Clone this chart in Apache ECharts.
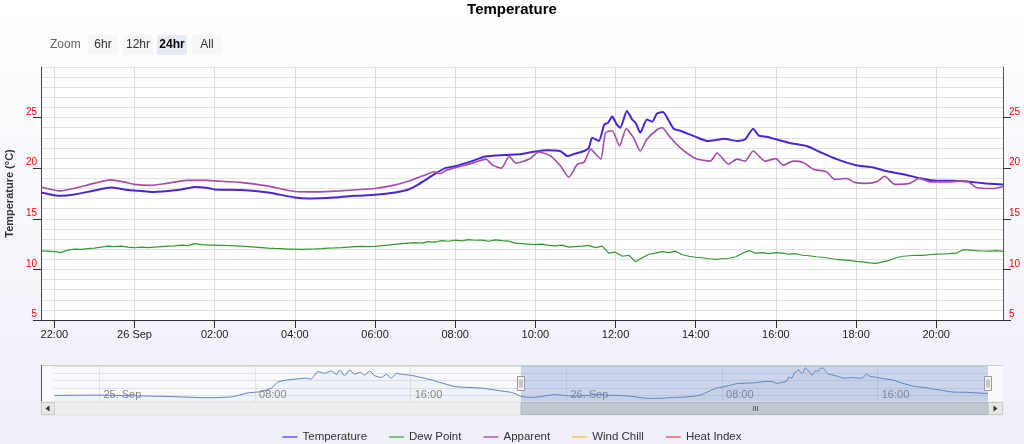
<!DOCTYPE html>
<html><head><meta charset="utf-8">
<script src="https://cdn.jsdelivr.net/npm/echarts@6/dist/echarts.min.js"></script>
<style>html,body{margin:0;padding:0;background:#fff}#c{width:1024px;height:444px}</style>
</head><body><div id="c"></div>
<script>
const FONT = '"Liberation Sans", Arial, Helvetica, sans-serif';
const MONTHS = ['Jan','Feb','Mar','Apr','May','Jun','Jul','Aug','Sep','Oct','Nov','Dec'];

// ---- data (time strings are "DD HH:MM", September) ----
const viewStart = "25 21:40", viewEnd = "26 21:40";
const navStart = "24 21:40", navEnd = "26 21:40";
const mainTicks = ["25 22:00","26 00:00","26 02:00","26 04:00","26 06:00","26 08:00","26 10:00","26 12:00","26 14:00","26 16:00","26 18:00","26 20:00"];
const navTicks = ["25 00:00","25 08:00","25 16:00","26 00:00","26 08:00","26 16:00"];
const yTicksMin = 5, yTicksMax = 30, yTickStep = 5;

const temperature = [["25 21:40",17.6],["25 22:00",17.33],["25 22:10",17.27],["25 22:30",17.4],["25 23:00",17.8],["25 23:25",18.1],["25 23:45",17.9],["26 00:00",17.8],["26 00:25",17.65],["26 00:50",17.75],["26 01:10",17.9],["26 01:30",18.15],["26 01:50",18.05],["26 02:00",17.9],["26 02:40",17.85],["26 03:20",17.6],["26 04:00",17.1],["26 04:20",17.0],["26 05:00",17.1],["26 05:30",17.27],["26 06:00",17.37],["26 06:30",17.6],["26 06:50",17.9],["26 07:05",18.4],["26 07:25",19.25],["26 07:45",20.0],["26 08:00",20.2],["26 08:25",20.7],["26 08:45",21.15],["26 09:15",21.3],["26 09:40",21.4],["26 10:00",21.65],["26 10:18",21.78],["26 10:37",21.7],["26 10:48",21.2],["26 10:58",21.4],["26 11:13",21.7],["26 11:20",22.0],["26 11:25",23.0],["26 11:35",22.7],["26 11:43",24.3],["26 11:49",24.5],["26 11:55",25.1],["26 12:02",24.3],["26 12:07",24.0],["26 12:17",25.66],["26 12:25",24.8],["26 12:30",24.5],["26 12:37",23.5],["26 12:47",24.8],["26 12:55",24.6],["26 13:02",25.4],["26 13:11",25.56],["26 13:20",24.67],["26 13:27",23.9],["26 13:37",23.7],["26 14:00",23.1],["26 14:17",22.7],["26 14:32",22.8],["26 14:42",22.9],["26 15:02",22.7],["26 15:14",22.86],["26 15:26",23.9],["26 15:34",23.25],["26 15:46",23.1],["26 16:00",22.86],["26 16:21",22.5],["26 16:46",22.2],["26 17:06",21.6],["26 17:31",20.9],["26 18:00",20.3],["26 18:26",20.07],["26 18:46",19.7],["26 19:11",19.4],["26 19:36",19.0],["26 20:00",18.75],["26 20:25",18.75],["26 20:50",18.65],["26 21:15",18.5],["26 21:40",18.4]];

const apparent = [["25 21:40",18.15],["25 22:09",17.76],["25 22:29",18.0],["25 22:59",18.5],["25 23:24",18.85],["25 23:44",18.65],["26 00:00",18.4],["26 00:23",18.3],["26 00:48",18.5],["26 01:18",18.8],["26 01:48",18.8],["26 02:00",18.75],["26 02:38",18.6],["26 03:18",18.25],["26 04:00",17.7],["26 04:33",17.66],["26 05:07",17.76],["26 05:37",17.9],["26 06:00",18.0],["26 06:27",18.3],["26 06:47",18.65],["26 07:12",19.25],["26 07:29",19.65],["26 07:37",19.45],["26 07:47",19.8],["26 08:00",20.05],["26 08:26",20.5],["26 08:46",20.9],["26 08:56",20.3],["26 09:09",20.0],["26 09:21",21.15],["26 09:31",20.5],["26 09:51",20.9],["26 10:05",21.6],["26 10:23",21.2],["26 10:38",20.2],["26 10:50",19.1],["26 11:03",20.4],["26 11:13",20.6],["26 11:23",21.9],["26 11:30",21.4],["26 11:38",20.9],["26 11:45",23.5],["26 11:55",23.7],["26 12:06",22.2],["26 12:16",23.9],["26 12:27",23.0],["26 12:37",21.7],["26 12:47",22.86],["26 13:02",23.8],["26 13:10",24.0],["26 13:20",23.2],["26 13:37",22.0],["26 14:00",20.95],["26 14:22",20.7],["26 14:32",21.5],["26 14:49",20.4],["26 15:02",20.9],["26 15:14",20.7],["26 15:26",21.7],["26 15:44",20.7],["26 16:00",20.95],["26 16:11",20.3],["26 16:26",20.7],["26 16:41",20.56],["26 16:56",19.9],["26 17:16",19.64],["26 17:28",18.9],["26 17:46",18.98],["26 17:58",18.6],["26 18:16",18.5],["26 18:31",18.65],["26 18:43",19.2],["26 18:58",18.4],["26 19:20",18.5],["26 19:35",19.0],["26 19:50",18.65],["26 20:15",18.65],["26 20:45",18.75],["26 21:00",18.1],["26 21:25",18.0],["26 21:40",18.2]];

// dew point every 10 minutes from 25 21:40 to 26 21:40
const dewStart = "25 21:40", dewStepMinutes = 10;
const dewPoint = [
 11.84,11.8,11.75,11.68,11.9,12.0,11.98,12.05,12.1,12.2,12.3,12.25,
 12.3,12.2,12.14,12.2,12.15,12.2,12.25,12.3,12.33,12.4,12.35,12.55,
 12.45,12.4,12.4,12.38,12.36,12.33,12.3,12.25,12.2,12.15,12.1,12.07,
 12.05,12.0,12.0,11.98,12.0,12.02,12.05,12.1,12.12,12.15,12.2,12.25,
 12.27,12.25,12.28,12.35,12.4,12.48,12.55,12.6,12.65,12.6,12.75,12.7,
 12.85,12.78,12.9,12.82,12.95,12.88,12.9,12.78,12.92,12.85,12.8,12.6,
 12.55,12.5,12.45,12.5,12.38,12.33,12.4,12.2,12.25,12.3,12.38,12.15,
 12.3,11.6,11.7,11.3,11.4,10.75,11.15,11.5,11.6,11.75,11.65,11.8,
 11.45,11.3,11.2,11.15,11.05,11.0,11.05,11.1,11.25,11.6,11.85,11.6,
 11.65,11.55,11.65,11.6,11.5,11.55,11.4,11.35,11.25,11.2,11.1,11.0,
 10.95,10.9,10.8,10.75,10.65,10.6,10.75,10.9,11.15,11.3,11.35,11.4,
 11.38,11.45,11.5,11.52,11.55,11.6,11.95,11.9,11.85,11.82,11.8,11.85,
 11.78];

// navigator: previous day of temperature (read from the navigator strip)
const navTempDay1 = [["24 21:40",17.84],["25 00:00",17.94],["25 01:40",17.75],["25 03:25",17.57],["25 05:35",17.2],["25 06:50",17.47],["25 07:35",18.5],["25 08:20",18.96],["25 08:50",19.9],["25 09:10",21.6],["25 09:40",22.2],["25 10:10",22.5],["25 10:40",22.7],["25 10:52",22.4],["25 11:14",24.55],["25 11:35",24.09],["25 11:55",24.74],["25 12:11",23.8],["25 12:21",25.0],["25 12:36",23.4],["25 12:52",25.0],["25 13:07",23.8],["25 13:23",24.37],["25 13:38",23.6],["25 13:53",24.74],["25 14:09",23.4],["25 14:29",22.9],["25 14:45",23.8],["25 15:00",22.7],["25 15:16",24.09],["25 15:31",23.8],["25 15:52",23.6],["25 16:12",23.3],["25 17:04",22.2],["25 18:16",20.36],["25 19:38",19.9],["25 20:50",18.96],["25 21:10",18.7],["25 21:28",18.1]];

const legendNames = ['Temperature','Dew Point','Apparent','Wind Chill','Heat Index'];
const lineColors = ['#4a24d6','#2f9a2f','#a44ca8','#f7a35c','#f45b5b'];
const legendColors = ['#8080ff','#80c080','#c080c0','#ffcc80','#ff8080'];
const zoomButtons = ['6hr','12hr','24hr','All'];
const zoomSelected = '24hr';

// ---- helpers ----
function ts(s){ const p=s.split(' '); const hm=p[1].split(':'); return Date.UTC(2023,8,+p[0],+hm[0],+hm[1]); }
const pad = n => (n<10?'0':'')+n;
function fmtMain(v){ const d=new Date(v); if(d.getUTCHours()===0&&d.getUTCMinutes()===0) return d.getUTCDate()+' '+MONTHS[d.getUTCMonth()]; return pad(d.getUTCHours())+':'+pad(d.getUTCMinutes()); }
function fmtNav(v){ const d=new Date(v); if(d.getUTCHours()===0&&d.getUTCMinutes()===0) return d.getUTCDate()+'. '+MONTHS[d.getUTCMonth()]; return pad(d.getUTCHours())+':'+pad(d.getUTCMinutes()); }
const toXY = arr => arr.map(p=>[ts(p[0]),p[1]]);
const dewData = dewPoint.map((v,i)=>[ts(dewStart)+i*dewStepMinutes*60000, v]);
const navData = toXY(navTempDay1).concat(toXY(temperature));

const chart = echarts.init(document.getElementById('c'), null, {renderer:'canvas'});
const yLabel = {color:'#ff0000', fontSize:10, fontFamily:FONT, showMaxLabel:false, verticalAlign:'bottom', lineHeight:11};
const option = {
  animation:false,
  backgroundColor:{type:'linear',x:0,y:0,x2:0,y2:1,colorStops:[{offset:0,color:'#ffffff'},{offset:1,color:'#efeffa'}]},
  textStyle:{fontFamily:FONT},
  title:{text:'Temperature', left:'center', top:2, padding:0, textStyle:{fontSize:15, fontWeight:'bold', color:'#000', fontFamily:FONT}},
  legend:{bottom:1, left:'center', padding:[0,5,0,5], icon:'rect', itemWidth:15, itemHeight:2, itemGap:22,
    textStyle:{fontSize:11.5, color:'#333', fontFamily:FONT},
    data:legendNames.map((n,i)=>({name:n, itemStyle:{color:legendColors[i]}}))},
  grid:[{left:41,right:21,top:67,height:253,show:true,backgroundColor:'#ffffff',borderWidth:0,containLabel:false,outerBoundsMode:'none'},
        {left:54,right:36,top:365,height:37,show:false,containLabel:false,outerBoundsMode:'none'}],
  xAxis:[
    {type:'value', gridIndex:0, min:ts(viewStart), max:ts(viewEnd),
     axisLine:{show:true,lineStyle:{color:'#333',width:1}},
     axisTick:{show:true,length:8,customValues:mainTicks.map(ts),lineStyle:{color:'#333'}},
     axisLabel:{customValues:mainTicks.map(ts),formatter:fmtMain,color:'#222',fontSize:11,margin:9,fontFamily:FONT},
     splitLine:{show:true,lineStyle:{color:'#dadada'}}},
    {type:'value', gridIndex:1, min:ts(navStart), max:ts(navEnd),
     axisLine:{show:false}, axisTick:{show:false,customValues:navTicks.map(ts)},
     axisLabel:{customValues:navTicks.map(ts),formatter:fmtNav,inside:true,align:'left',margin:2,padding:[0,0,0,4],color:'#888',fontSize:11,fontFamily:FONT},
     splitLine:{show:true,lineStyle:{color:'#e2e2e2'}}}
  ],
  yAxis:[
    {type:'value', gridIndex:0, position:'left', min:yTicksMin, max:yTicksMax, interval:yTickStep,
     name:'Temperature (°C)', nameLocation:'middle', nameGap:25,
     nameTextStyle:{fontWeight:'bold',fontSize:11,color:'#333',fontFamily:FONT},
     axisLine:{show:true,lineStyle:{color:'#444'}}, axisTick:{show:true,length:8,lineStyle:{color:'#333'}},
     axisLabel:Object.assign({margin:4},yLabel),
     splitLine:{show:true,lineStyle:{color:'#e2e2e2'}},
     minorTick:{show:false,splitNumber:5}, minorSplitLine:{show:true,lineStyle:{color:'#e2e2e2'}}},
    {type:'value', gridIndex:0, position:'right', min:yTicksMin, max:yTicksMax, interval:yTickStep,
     axisLine:{show:true,lineStyle:{color:'#555'}}, axisTick:{show:true,length:8,lineStyle:{color:'#333'}},
     axisLabel:Object.assign({margin:6},yLabel), splitLine:{show:false}},
    {type:'value', gridIndex:1, min:16, max:26.4, interval:2, axisLine:{show:false}, axisTick:{show:false}, axisLabel:{show:false},
     splitLine:{show:true,lineStyle:{color:'#e2e2e2'}}}
  ],
  series:[
    {name:'Temperature',type:'line',xAxisIndex:0,yAxisIndex:0,data:toXY(temperature),showSymbol:false,smooth:0.2,
     lineStyle:{color:lineColors[0],width:2},itemStyle:{color:lineColors[0]},z:3},
    {name:'Dew Point',type:'line',xAxisIndex:0,yAxisIndex:0,data:dewData,showSymbol:false,
     lineStyle:{color:lineColors[1],width:1.2},itemStyle:{color:lineColors[1]},z:3},
    {name:'Apparent',type:'line',xAxisIndex:0,yAxisIndex:0,data:toXY(apparent),showSymbol:false,smooth:0.2,
     lineStyle:{color:lineColors[2],width:1.6},itemStyle:{color:lineColors[2]},z:4},
    {name:'Wind Chill',type:'line',xAxisIndex:0,yAxisIndex:0,data:[],showSymbol:false,lineStyle:{color:lineColors[3]},itemStyle:{color:lineColors[3]}},
    {name:'Heat Index',type:'line',xAxisIndex:0,yAxisIndex:0,data:[],showSymbol:false,lineStyle:{color:lineColors[4]},itemStyle:{color:lineColors[4]}},
    {name:'navigator',type:'line',xAxisIndex:1,yAxisIndex:2,data:navData,showSymbol:false,smooth:0.2,
     lineStyle:{color:'#5b84c4',width:1},areaStyle:{color:'rgba(69,114,167,0.06)'},z:3,
     markArea:{silent:true,itemStyle:{color:'rgba(102,133,194,0.3)'},data:[[{xAxis:ts(viewStart)},{xAxis:ts(viewEnd)}]]}}
  ]
};
chart.setOption(option);

// UI chrome: range buttons, navigator frame, scrollbar
const selL = chart.convertToPixel({xAxisIndex:1}, ts(viewStart));
const selR = chart.convertToPixel({xAxisIndex:1}, ts(viewEnd));
const g = [];
g.push({type:'text',z:10,style:{text:'Zoom',x:50,y:45,verticalAlign:'middle',fill:'#666',font:'12px '+FONT}});
const bx=[88,123,157,192];
zoomButtons.forEach((b,i)=>{
  const sel=b===zoomSelected;
  g.push({type:'rect',z:10,shape:{x:bx[i],y:35,width:30,height:20,r:2},style:{fill:sel?'#e6ebf5':'#f7f7f7',stroke:null}});
  g.push({type:'text',z:11,style:{text:b,x:bx[i]+15,y:45,align:'center',verticalAlign:'middle',fill:sel?'#000':'#333',font:(sel?'bold ':'')+'12px '+FONT}});
});
// navigator frame
g.push({type:'rect',z:-1,shape:{x:41,y:365,width:962,height:37},style:{fill:'#f8f8fd'}});
g.push({type:'line',z:10,shape:{x1:41,y1:365.5,x2:1003,y2:365.5},style:{stroke:'#cccccc',lineWidth:1}});
g.push({type:'line',z:10,shape:{x1:41.5,y1:365,x2:41.5,y2:402},style:{stroke:'#555',lineWidth:1}});
// handles
[selL,selR].forEach(x=>{
  g.push({type:'rect',z:12,shape:{x:Math.round(x)-3.5,y:376.5,width:7,height:14},style:{fill:'#f2f2f2',stroke:'#999',lineWidth:1}});
  g.push({type:'line',z:13,shape:{x1:Math.round(x)-1,y1:379.5,x2:Math.round(x)-1,y2:387.5},style:{stroke:'#999'}});
  g.push({type:'line',z:13,shape:{x1:Math.round(x)+1,y1:379.5,x2:Math.round(x)+1,y2:387.5},style:{stroke:'#999'}});
});
// scrollbar
g.push({type:'rect',z:10,shape:{x:41,y:402,width:962,height:13},style:{fill:'#eeeeee',stroke:'#e2e2e2'}});
g.push({type:'rect',z:11,shape:{x:selL,y:402.5,width:selR-selL,height:12},style:{fill:'#bfc7d0',stroke:'#b0b8c2'}});
const cx=(selL+selR)/2;
[-2,0,2].forEach(d=>g.push({type:'line',z:12,shape:{x1:Math.round(cx)+d+0.5,y1:406,x2:Math.round(cx)+d+0.5,y2:411},style:{stroke:'#666'}}));
g.push({type:'rect',z:12,shape:{x:41.5,y:402.5,width:13,height:12},style:{fill:'#e6e6e6',stroke:'#cccccc'}});
g.push({type:'polygon',z:13,shape:{points:[[49.5,405.5],[49.5,411.5],[45.5,408.5]]},style:{fill:'#333'}});
g.push({type:'rect',z:12,shape:{x:988.5,y:402.5,width:14,height:12},style:{fill:'#e6e6e6',stroke:'#cccccc'}});
g.push({type:'polygon',z:13,shape:{points:[[993.5,405.5],[993.5,411.5],[997.5,408.5]]},style:{fill:'#333'}});
chart.setOption({graphic:g});
</script></body></html>
